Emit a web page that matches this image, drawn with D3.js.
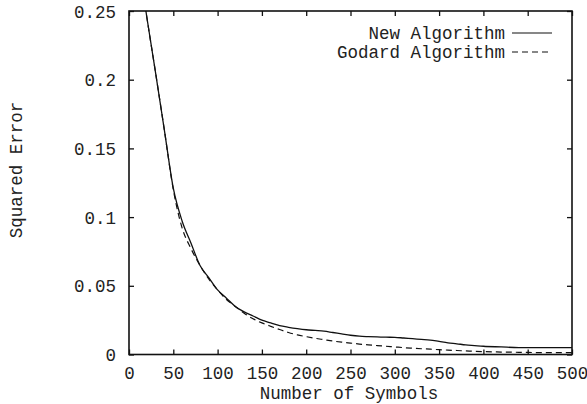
<!DOCTYPE html>
<html>
<head>
<meta charset="utf-8">
<script src="https://cdn.jsdelivr.net/npm/d3@7"></script>
<style>
  html, body { margin: 0; padding: 0; background: #fff; }
  svg text { font-family: "Liberation Mono", "Courier New", monospace; fill: #222; }
</style>
</head>
<body>
<svg id="chart" width="587" height="404"></svg>
<script>
const symbols = [10,20,30,40,50,60,70,80,90,100,110,120,130,140,150,160,170,180,190,200,210,220,230,240,250,260,270,280,290,300,310,320,330,340,350,360,370,380,390,400,420,440,460,480,500];
const newAlgorithm = [0.29,0.246,0.205,0.163,0.121,0.097,0.081,0.065,0.056,0.047,0.041,0.035,0.031,0.028,0.025,0.023,0.021,0.0198,0.0188,0.018,0.0175,0.017,0.016,0.015,0.014,0.0133,0.013,0.0128,0.0126,0.0125,0.012,0.0115,0.011,0.0105,0.0095,0.0085,0.0078,0.007,0.0065,0.006,0.0055,0.005,0.005,0.005,0.005];
const godardAlgorithm = [0.29,0.246,0.205,0.163,0.12,0.092,0.077,0.065,0.055,0.047,0.040,0.035,0.030,0.026,0.023,0.0205,0.0182,0.016,0.0143,0.013,0.0118,0.0108,0.0098,0.009,0.0083,0.0076,0.007,0.0065,0.006,0.0055,0.005,0.0046,0.0042,0.0039,0.0035,0.0032,0.0029,0.0026,0.0023,0.0021,0.0018,0.0016,0.0014,0.0013,0.0013];
const xTicks = [0,50,100,150,200,250,300,350,400,450,500];
const yTicks = [0,0.05,0.1,0.15,0.2,0.25];
const yTickLabels = ["0","0.05","0.1","0.15","0.2","0.25"];
const seriesNames = ["New Algorithm","Godard Algorithm"];

const svg = d3.select("#chart");
const m = {left:129, right:572, top:11, bottom:354.5};
const x = d3.scaleLinear().domain([0,500]).range([m.left, m.right]);
const y = d3.scaleLinear().domain([0,0.25]).range([m.bottom, m.top]);
const fs = 17.5;

svg.append("clipPath").attr("id","clip").append("rect")
  .attr("x", m.left).attr("y", m.top).attr("width", m.right-m.left).attr("height", m.bottom-m.top);

const tl = 5;
const gx = svg.append("g").attr("transform",`translate(0,${m.bottom})`)
  .call(d3.axisBottom(x).tickValues(xTicks).tickSize(-tl).tickPadding(12).tickFormat(d3.format("d")));
const gxt = svg.append("g").attr("transform",`translate(0,${m.top})`)
  .call(d3.axisTop(x).tickValues(xTicks).tickSize(-tl).tickFormat(""));
const gy = svg.append("g").attr("transform",`translate(${m.left},0)`)
  .call(d3.axisLeft(y).tickValues(yTicks).tickSize(-tl).tickPadding(13).tickFormat((d,i)=>yTickLabels[i]));
const gyr = svg.append("g").attr("transform",`translate(${m.right},0)`)
  .call(d3.axisRight(y).tickValues(yTicks).tickSize(-tl).tickFormat(""));
[gx,gxt,gy,gyr].forEach(g=>{
  g.select(".domain").remove();
  g.selectAll(".tick line").attr("stroke","#111").attr("stroke-width",1.3);
  g.selectAll("text").style("font-family",'"Liberation Mono", monospace').style("font-size",fs+"px").attr("fill","#222");
});
gx.selectAll("text").attr("dy","0.71em");
gy.selectAll("text").attr("dy","0.35em");

svg.append("rect").attr("x",m.left).attr("y",m.top).attr("width",m.right-m.left).attr("height",m.bottom-m.top)
  .attr("fill","none").attr("stroke","#111").attr("stroke-width",1.6);

const line = d3.line().x((d,i)=>x(symbols[i])).y(d=>y(d)).curve(d3.curveMonotoneX);
const plot = svg.append("g").attr("clip-path","url(#clip)");
plot.append("path").attr("d", line(newAlgorithm)).attr("fill","none").attr("stroke","#111").attr("stroke-width",1.3);
plot.append("path").attr("d", line(godardAlgorithm)).attr("fill","none").attr("stroke","#111").attr("stroke-width",1.2).attr("stroke-dasharray","6,4");

const lg = svg.append("g");
const rows = [{y:33, dash:null},{y:52, dash:"6,4"}];
rows.forEach((r,i)=>{
  lg.append("text").attr("x",505).attr("y",r.y).attr("dy","0.35em").attr("text-anchor","end")
    .style("font-size",fs+"px").text(seriesNames[i]);
  lg.append("line").attr("x1",512).attr("x2",552).attr("y1",r.y).attr("y2",r.y)
    .attr("stroke","#111").attr("stroke-width",1.2).attr("stroke-dasharray",r.dash);
});

svg.append("text").attr("x",349).attr("y",393).attr("dy","0.35em").attr("text-anchor","middle")
  .style("font-size",fs+"px").text("Number of Symbols");
svg.append("text").attr("transform","translate(16,170) rotate(-90)").attr("dy","0.35em").attr("text-anchor","middle")
  .style("font-size",fs+"px").text("Squared Error");
</script>
</body>
</html>
